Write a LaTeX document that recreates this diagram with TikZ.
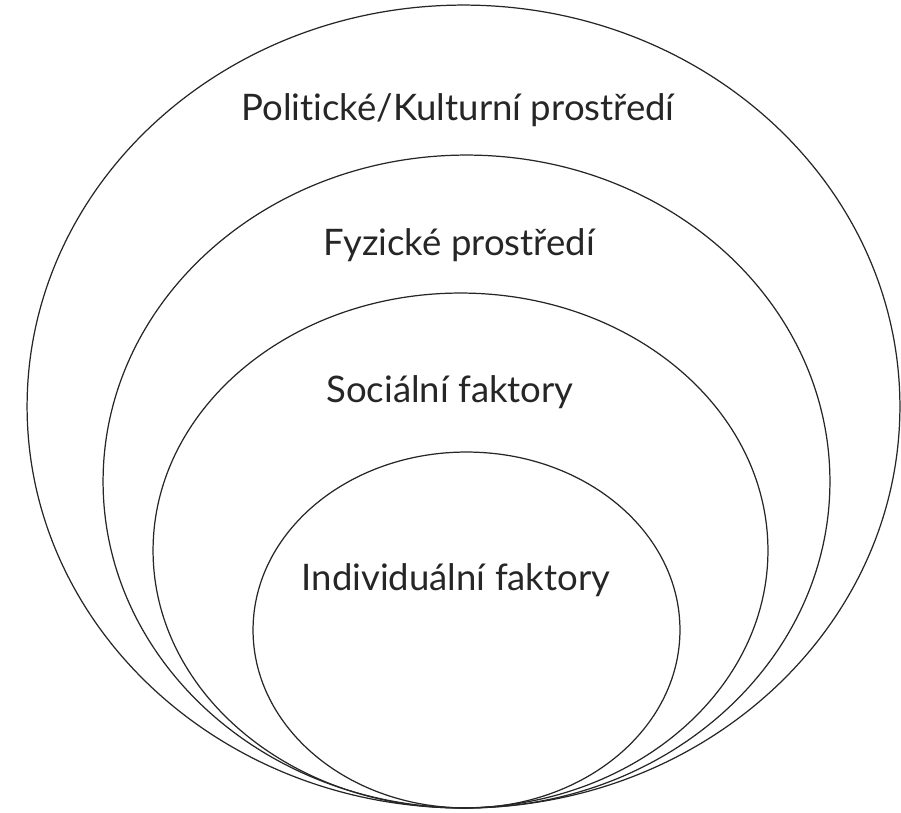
\documentclass[tikz,border=0pt]{standalone}
\usepackage{fontspec}
\setmainfont{Lato}[Ligatures={NoCommon}]
\usetikzlibrary{shapes.geometric}

\begin{document}
\begin{tikzpicture}[x=0.02cm, y=-0.02cm]

% definitions
\tikzstyle{level} = [ellipse, draw=black!85, line width=0.7pt, inner sep=0pt, outer sep=0pt]
\tikzstyle{label} = [text centered, inner sep=0pt, text=black!85, font=\fontsize{20.8}{25}\selectfont]

\useasboundingbox (0,0) rectangle (901,813);

% the rings
\node (political) [level, minimum width=17.46cm, minimum height=16.06cm] at (463.5,406.5) {};

\node (physical) [level, minimum width=14.54cm, minimum height=13.06cm] at (466.5,481.5) {};

\node (social) [level, minimum width=12.3cm, minimum height=10.3cm] at (460.5,550.5) {};

\node (individual) [level, minimum width=8.54cm, minimum height=7.12cm] at (466.5,630) {};

% the labels
\node (tpolitical) [label] at (458,110) {Politické/Kulturní prostředí};

\node (tphysical) [label] at (459,245) {Fyzické prostředí};

\node (tsocial) [label] at (450,392) {Sociální faktory};

\node (tindividual) [label] at (456,580) {Individuální faktory};

\end{tikzpicture}
\end{document}
